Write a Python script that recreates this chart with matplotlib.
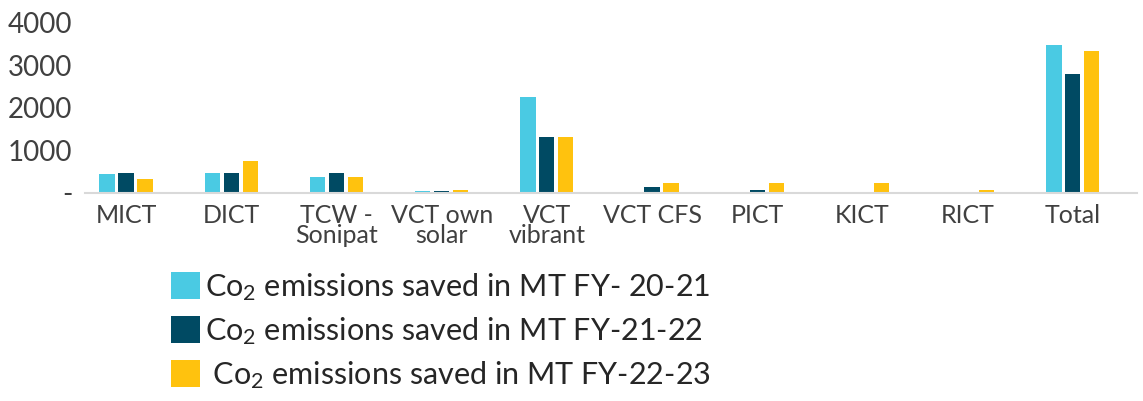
import numpy as np
import matplotlib
matplotlib.use("Agg")
import matplotlib.pyplot as plt
from matplotlib.patches import Patch

plt.rcParams['font.family'] = ['Lato', 'DejaVu Sans']
plt.rcParams['mathtext.fontset'] = 'custom'
plt.rcParams['mathtext.rm'] = 'Lato'
plt.rcParams['mathtext.it'] = 'Lato'

sites = ["MICT", "DICT", "TCW -\nSonipat", "VCT own\nsolar", "VCT\nvibrant",
         "VCT CFS", "PICT", "KICT", "RICT", "Total"]
fy_20_21 = [440, 465, 380, 45, 2245, 0, 0, 0, 0, 3480]
fy_21_22 = [465, 465, 465, 45, 1300, 135, 70, 0, 0, 2785]
fy_22_23 = [325, 740, 380, 75, 1300, 220, 240, 240, 70, 3340]
series_labels = ["Co$_2$ emissions saved in MT FY- 20-21",
                 "Co$_2$ emissions saved in MT FY-21-22",
                 " Co$_2$ emissions saved in MT FY-22-23"]
colors = ["#4ACAE3", "#004A63", "#FFC20E"]
yticks = [0, 1000, 2000, 3000, 4000]
ytick_labels = ["-", "1000", "2000", "3000", "4000"]

text_color = "#404040"

fig = plt.figure(figsize=(11.43, 4.01), dpi=100)
ax = fig.add_axes([85 / 1143, 1 - 192.7 / 401, (1137 - 85) / 1143, 170 / 401])

x = np.arange(len(sites))
pitch = 0.18
width = 0.145
for i, (vals, col) in enumerate(zip([fy_20_21, fy_21_22, fy_22_23], colors)):
    ax.bar(x + (i - 1) * pitch, vals, width=width, color=col, linewidth=0)

ax.set_xlim(-0.39, 9.61)
ax.set_ylim(0, 4000)
ax.set_yticks(yticks)
ax.set_yticklabels(ytick_labels)
ax.set_xticks(x)
ax.set_xticklabels(sites, linespacing=0.85)
ax.tick_params(axis="both", length=0, colors=text_color)
ax.tick_params(axis="y", labelsize=20, pad=9)
ax.tick_params(axis="x", labelsize=18, pad=8)

for side in ["top", "right", "left"]:
    ax.spines[side].set_visible(False)
ax.spines["bottom"].set_color("#D9D9D9")
ax.spines["bottom"].set_linewidth(1.5)

handles = [Patch(facecolor=c, edgecolor="none") for c in colors]
fig.legend(handles, series_labels, loc="upper left",
           bbox_to_anchor=(171 / 1143, 1 - 271 / 401),
           frameon=False, fontsize=22, handlelength=0.95, handleheight=1.0,
           handletextpad=0.15, labelspacing=0.4, labelcolor="#262626",
           borderaxespad=0, borderpad=0)

fig.savefig("out.png", dpi=100)
